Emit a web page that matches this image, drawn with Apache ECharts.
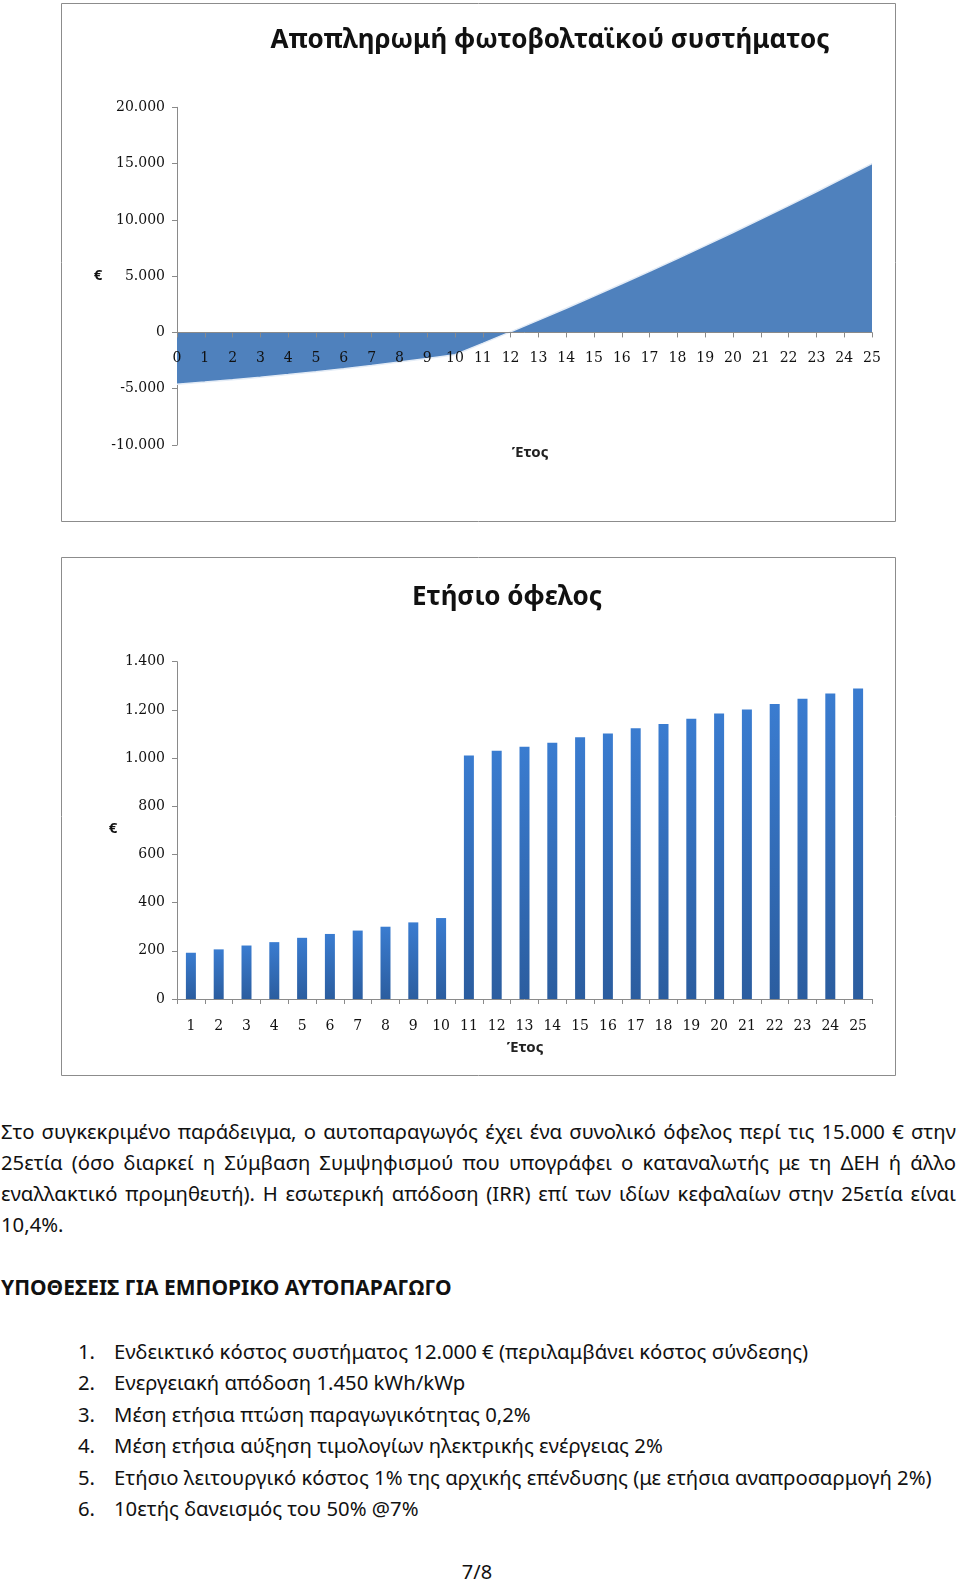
<!DOCTYPE html>
<html>
<head>
<meta charset="utf-8">
<script src="https://cdn.jsdelivr.net/npm/echarts@6/dist/echarts.min.js"></script>
<style>
  html, body { margin: 0; padding: 0; background: #fff; }
  body { width: 960px; height: 1584px; position: relative; overflow: hidden; font-family: 'Noto Sans', 'Open Sans', sans-serif; color: #111; }
  #chart { position: absolute; left: 0; top: 0; width: 960px; height: 1080px; }
  .para { position: absolute; left: 1px; top: 1116px; width: 955px; font-size: 20.3px; line-height: 31px; }
  .para .j { text-align: justify; text-align-last: justify; white-space: nowrap; }
  .head { position: absolute; left: 1px; top: 1272px; font-size: 21px; line-height: 31px; font-weight: bold; white-space: nowrap; }
  .list { position: absolute; left: 0; top: 1336px; font-size: 20.3px; line-height: 31.4px; }
  .list .it { position: relative; white-space: nowrap; height: 31.4px; }
  .list .n { position: absolute; left: 78px; }
  .list .t { position: absolute; left: 114px; }
  .page { position: absolute; left: 0; width: 954px; text-align: center; top: 1556px; font-size: 20px; line-height: 31px; }
</style>
</head>
<body>
<div id="chart"></div>
<div class="para">
  <div class="j">Στο συγκεκριμένο παράδειγμα, ο αυτοπαραγωγός έχει ένα συνολικό όφελος περί τις 15.000 € στην</div>
  <div class="j">25ετία (όσο διαρκεί η Σύμβαση Συμψηφισμού που υπογράφει ο καταναλωτής με τη ΔΕΗ ή άλλο</div>
  <div class="j">εναλλακτικό προμηθευτή). Η εσωτερική απόδοση (IRR) επί των ιδίων κεφαλαίων στην 25ετία είναι</div>
  <div>10,4%.</div>
</div>
<div class="head">ΥΠΟΘΕΣΕΙΣ ΓΙΑ ΕΜΠΟΡΙΚΟ ΑΥΤΟΠΑΡΑΓΩΓΟ</div>
<div class="list" id="list"></div>
<div class="page">7/8</div>
<script>
// ---- Data ----
var paybackYears = ['0','1','2','3','4','5','6','7','8','9','10','11','12','13','14','15','16','17','18','19','20','21','22','23','24','25'];
var cumulativeValues = [-4600, -4410, -4200, -3980, -3745, -3490, -3220, -2935, -2635, -2315, -1980, -970, 50, 1090, 2150, 3230, 4320, 5430, 6560, 7710, 8880, 10060, 11270, 12500, 13750, 15000];
var benefitYears = ['1','2','3','4','5','6','7','8','9','10','11','12','13','14','15','16','17','18','19','20','21','22','23','24','25'];
var annualBenefit = [192, 206, 222, 236, 254, 270, 284, 300, 318, 336, 1011, 1030, 1047, 1064, 1086, 1102, 1124, 1141, 1163, 1185, 1202, 1224, 1246, 1268, 1289];
var paybackTicks = { min: -10000, max: 20000, interval: 5000 };
var benefitTicks = { min: 0, max: 1400, interval: 200 };
var title1 = 'Αποπληρωμή φωτοβολταϊκού συστήματος';
var title2 = 'Ετήσιο όφελος';
var yName = '€';
var xName = 'Έτος';
var assumptions = [
  'Ενδεικτικό κόστος συστήματος 12.000 € (περιλαμβάνει κόστος σύνδεσης)',
  'Ενεργειακή απόδοση 1.450 kWh/kWp',
  'Μέση ετήσια πτώση παραγωγικότητας 0,2%',
  'Μέση ετήσια αύξηση τιμολογίων ηλεκτρικής ενέργειας 2%',
  'Ετήσιο λειτουργικό κόστος 1% της αρχικής επένδυσης (με ετήσια αναπροσαρμογή 2%)',
  '10ετής δανεισμός του 50% @7%'
];

// ---- List ----
var listEl = document.getElementById('list');
assumptions.forEach(function (s, i) {
  var d = document.createElement('div');
  d.className = 'it';
  d.innerHTML = '<span class="n">' + (i + 1) + '.</span><span class="t"></span>';
  d.querySelector('.t').textContent = s;
  listEl.appendChild(d);
});

function fmt(v) {
  var neg = v < 0; var a = Math.abs(v);
  var s = String(a).replace(/\B(?=(\d{3})+(?!\d))/g, '.');
  return (neg ? '-' : '') + s;
}

var labelFont = { fontFamily: 'DejaVu Serif', fontSize: 14, color: '#111' };
var axisGray = '#8a8a8a';
var grid1H = 337.7;
// distance from the bottom of grid 1 to its zero line
var zeroOffset = -(0 - paybackTicks.min) / (paybackTicks.max - paybackTicks.min) * grid1H;

var chart = echarts.init(document.getElementById('chart'), null, { renderer: 'canvas' });
chart.setOption({
  animation: false,
  backgroundColor: '#fff',
  grid: [
    { left: 177, top: 107.3, width: 695, height: grid1H, containLabel: false, outerBoundsMode: 'none' },
    { left: 177, top: 661.7, width: 695, height: 337.3, containLabel: false, outerBoundsMode: 'none' }
  ],
  xAxis: [
    {
      gridIndex: 0, type: 'category', data: paybackYears, boundaryGap: false,
      position: 'bottom', offset: zeroOffset,
      axisLine: { onZero: false, lineStyle: { color: axisGray, width: 1 } },
      axisTick: { show: true, length: 5, lineStyle: { color: axisGray } },
      axisLabel: Object.assign({ margin: 19, interval: 0 }, labelFont),
      splitLine: { show: false },
      z: 5
    },
    {
      gridIndex: 1, type: 'category', data: benefitYears, boundaryGap: true,
      axisLine: { lineStyle: { color: axisGray, width: 1 } },
      axisTick: { show: true, length: 5, lineStyle: { color: axisGray } },
      axisLabel: Object.assign({ margin: 20, interval: 0 }, labelFont),
      splitLine: { show: false }
    }
  ],
  yAxis: [
    {
      gridIndex: 0, type: 'value', min: paybackTicks.min, max: paybackTicks.max, interval: paybackTicks.interval,
      axisLine: { show: true, onZero: false, lineStyle: { color: axisGray, width: 1 } },
      axisTick: { show: true, length: 5, lineStyle: { color: axisGray } },
      axisLabel: Object.assign({ margin: 12, formatter: function (v) { return fmt(v); } }, labelFont),
      splitLine: { show: false }
    },
    {
      gridIndex: 1, type: 'value', min: benefitTicks.min, max: benefitTicks.max, interval: benefitTicks.interval,
      axisLine: { show: true, lineStyle: { color: axisGray, width: 1 } },
      axisTick: { show: true, length: 5, lineStyle: { color: axisGray } },
      axisLabel: Object.assign({ margin: 12, formatter: function (v) { return fmt(v); } }, labelFont),
      splitLine: { show: false }
    }
  ],
  series: [
    {
      type: 'line', xAxisIndex: 0, yAxisIndex: 0, data: cumulativeValues,
      symbol: 'none', smooth: false,
      lineStyle: { color: '#e4ecf6', width: 1.5 },
      areaStyle: { color: '#4f81bd', opacity: 1, origin: 0 },
      z: 1
    },
    {
      type: 'bar', xAxisIndex: 1, yAxisIndex: 1, data: annualBenefit,
      barWidth: 10,
      itemStyle: {
        color: new echarts.graphic.LinearGradient(0, 0, 0, 1, [
          { offset: 0, color: '#3a7cd0' },
          { offset: 1, color: '#2b5d9f' }
        ])
      }
    }
  ],
  graphic: [
    { type: 'rect', shape: { x: 61.5, y: 3.5, width: 834, height: 518 }, style: { fill: 'none', stroke: '#8c8c8c', lineWidth: 1 }, z: 100 },
    { type: 'rect', shape: { x: 61.5, y: 557.5, width: 834, height: 518 }, style: { fill: 'none', stroke: '#8c8c8c', lineWidth: 1 }, z: 100 },
    { type: 'text', x: 550, y: 41, style: { text: title1, font: 'bold 26px "Noto Sans"', fill: '#111', textAlign: 'center', textVerticalAlign: 'middle' } },
    { type: 'text', x: 507, y: 598, style: { text: title2, font: 'bold 26px "Noto Sans"', fill: '#111', textAlign: 'center', textVerticalAlign: 'middle' } },
    { type: 'text', x: 98, y: 276, style: { text: yName, font: 'bold 15px "Noto Sans"', fill: '#111', textAlign: 'center', textVerticalAlign: 'middle' } },
    { type: 'text', x: 113, y: 829, style: { text: yName, font: 'bold 15px "Noto Sans"', fill: '#111', textAlign: 'center', textVerticalAlign: 'middle' } },
    { type: 'text', x: 530, y: 453, style: { text: xName, font: 'bold 15px "Noto Sans"', fill: '#222', textAlign: 'center', textVerticalAlign: 'middle' } },
    { type: 'text', x: 525, y: 1048, style: { text: xName, font: 'bold 15px "Noto Sans"', fill: '#222', textAlign: 'center', textVerticalAlign: 'middle' } }
  ]
});
</script>
</body>
</html>
